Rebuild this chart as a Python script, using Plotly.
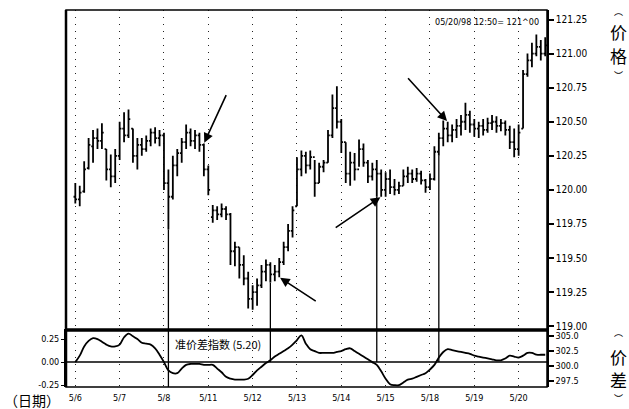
import plotly.graph_objects as go

# ---------------- data ----------------
days = ["5/6", "5/7", "5/8", "5/11", "5/12", "5/13", "5/14", "5/15", "5/18", "5/19", "5/20"]
day_start_bar = [0, 10, 20, 30, 40, 50, 60, 70, 80, 90, 100]

open_ = [119.95, 119.93, 119.99, 120.16, 120.32, 120.38, 120.36, 120.30, 120.15, 120.10,
         120.25, 120.45, 120.40, 120.45, 120.25, 120.33, 120.30, 120.36, 120.42, 120.38,
         120.40, 120.05, 119.95, 120.18, 120.27, 120.35, 120.42, 120.36, 120.40, 120.33,
         120.15, 119.80, 119.85, 119.82, 119.86, 119.82, 119.55, 119.58, 119.45, 119.35,
         119.20, 119.25, 119.30, 119.40, 119.45, 119.38, 119.40, 119.47, 119.58, 119.70,
         119.88, 120.15, 120.25, 120.18, 120.24, 120.05, 120.17, 120.20, 120.40, 120.60,
         120.50, 120.35, 120.12, 120.20, 120.15, 120.30, 120.20, 120.10, 120.15, 120.12,
         120.00, 120.08, 120.02, 120.00, 120.03, 120.10, 120.12, 120.08, 120.12, 120.07,
         120.02, 120.08, 120.28, 120.38, 120.45, 120.40, 120.44, 120.47, 120.50, 120.55,
         120.48, 120.45, 120.47, 120.44, 120.49, 120.50, 120.47, 120.49, 120.44, 120.35,
         120.30, 120.45, 120.85, 120.95, 121.00, 121.05, 121.00]

high = [120.05, 120.03, 120.21, 120.38, 120.44, 120.45, 120.49, 120.30, 120.26, 120.30,
        120.50, 120.57, 120.59, 120.45, 120.38, 120.38, 120.40, 120.45, 120.46, 120.44,
        120.42, 120.15, 120.25, 120.30, 120.38, 120.48, 120.45, 120.44, 120.42, 120.34,
        120.18, 119.89, 119.88, 119.90, 119.88, 119.83, 119.62, 119.58, 119.52, 119.40,
        119.30, 119.35, 119.45, 119.49, 119.47, 119.45, 119.50, 119.62, 119.75, 119.88,
        120.24, 120.29, 120.28, 120.29, 120.22, 120.20, 120.22, 120.44, 120.70, 120.76,
        120.52, 120.35, 120.28, 120.27, 120.37, 120.34, 120.22, 120.20, 120.22, 120.15,
        120.13, 120.15, 120.08, 120.06, 120.15, 120.17, 120.15, 120.16, 120.14, 120.08,
        120.12, 120.32, 120.42, 120.51, 120.50, 120.48, 120.52, 120.55, 120.64, 120.58,
        120.52, 120.50, 120.52, 120.53, 120.55, 120.54, 120.52, 120.51, 120.47, 120.45,
        120.48, 120.88, 121.00, 121.08, 121.14, 121.10, 121.12]

low = [119.90, 119.88, 119.98, 120.15, 120.20, 120.30, 120.30, 120.07, 120.02, 120.05,
       120.22, 120.35, 120.38, 120.20, 120.15, 120.25, 120.28, 120.32, 120.34, 120.32,
       120.00, 119.71, 119.93, 120.10, 120.20, 120.30, 120.32, 120.30, 120.28, 120.10,
       119.96, 119.76, 119.78, 119.80, 119.78, 119.45, 119.44, 119.35, 119.30, 119.13,
       119.12, 119.15, 119.28, 119.33, 119.32, 119.33, 119.36, 119.45, 119.55, 119.65,
       119.88, 120.10, 120.12, 120.15, 119.95, 120.05, 120.13, 120.20, 120.38, 120.45,
       120.27, 120.05, 120.03, 120.07, 120.17, 120.17, 120.05, 120.07, 119.95, 119.95,
       119.95, 119.97, 119.96, 119.97, 120.03, 120.05, 120.05, 120.06, 120.04, 119.98,
       120.00, 120.07, 120.25, 120.32, 120.35, 120.35, 120.38, 120.40, 120.44, 120.42,
       120.39, 120.38, 120.40, 120.42, 120.44, 120.42, 120.43, 120.40, 120.30, 120.24,
       120.25, 120.45, 120.83, 120.90, 120.98, 120.95, 120.98]

close = [119.93, 119.98, 120.15, 120.33, 120.38, 120.36, 120.42, 120.15, 120.10, 120.25,
         120.45, 120.40, 120.52, 120.25, 120.33, 120.30, 120.36, 120.42, 120.38, 120.40,
         120.05, 119.95, 120.18, 120.27, 120.35, 120.42, 120.36, 120.40, 120.33, 120.15,
         120.00, 119.85, 119.82, 119.86, 119.82, 119.55, 119.58, 119.45, 119.35, 119.20,
         119.25, 119.30, 119.40, 119.45, 119.38, 119.40, 119.47, 119.58, 119.70, 119.85,
         120.15, 120.25, 120.18, 120.24, 120.05, 120.17, 120.20, 120.40, 120.60, 120.50,
         120.35, 120.12, 120.20, 120.15, 120.30, 120.20, 120.10, 120.15, 120.12, 120.00,
         120.08, 120.02, 120.00, 120.03, 120.10, 120.12, 120.08, 120.12, 120.07, 120.02,
         120.08, 120.28, 120.38, 120.45, 120.40, 120.44, 120.47, 120.50, 120.55, 120.48,
         120.45, 120.47, 120.44, 120.49, 120.50, 120.47, 120.49, 120.44, 120.35, 120.30,
         120.42, 120.85, 120.95, 121.00, 121.05, 121.00, 121.06]

osc = [0.00, 0.07, 0.17, 0.23, 0.26, 0.25, 0.22, 0.19, 0.17, 0.17,
       0.19, 0.27, 0.31, 0.28, 0.25, 0.21, 0.20, 0.19, 0.15, 0.08,
       0.00, -0.09, -0.12, -0.12, -0.07, -0.03, -0.02, -0.02, -0.02, -0.03,
       -0.03, -0.03, -0.07, -0.11, -0.16, -0.18, -0.19, -0.19, -0.19, -0.18,
       -0.14, -0.09, -0.05, -0.01, 0.02, 0.06, 0.09, 0.12, 0.15, 0.19,
       0.24, 0.29, 0.20, 0.14, 0.12, 0.10, 0.10, 0.10, 0.10, 0.11,
       0.12, 0.14, 0.15, 0.12, 0.09, 0.06, 0.03, 0.00, -0.03, -0.10,
       -0.18, -0.24, -0.25, -0.25, -0.22, -0.19, -0.18, -0.16, -0.14, -0.12,
       -0.08, -0.03, 0.05, 0.11, 0.14, 0.13, 0.12, 0.11, 0.10, 0.09,
       0.07, 0.06, 0.05, 0.04, 0.03, 0.02, 0.02, 0.04, 0.07, 0.06,
       0.05, 0.07, 0.10, 0.10, 0.08, 0.08, 0.08]

price_ticks = [121.25, 121.00, 120.75, 120.50, 120.25, 120.00, 119.75, 119.50, 119.25, 119.00]
osc_ticks = [0.25, 0.00, -0.25]
spread_ticks = [305.0, 302.5, 300.0, 297.5]

signal_bars = [21, 44, 68, 82]
signal_lower_end = [-0.27, 0.0, 0.0, 0.0]

arrow_bars = [29, 46, 69, 84]
arrow_at = ["high", "low", "low", "high"]
arrow_dx = [23, 38, -47, -41]
arrow_dy = [-50, 25, 32, -45]

# ---------------- figure ----------------
bar_x = list(range(len(close)))
FONT = "Liberation Sans Narrow, DejaVu Sans Condensed, Liberation Sans, Arial, sans-serif"
CJK = "Noto Sans CJK SC, sans-serif"
XR = [-2.1, 106.4]
PR = [118.98, 121.32]
OR = [-0.27, 0.36]
SR = [296.5, 306.17]

fig = go.Figure()
fig.add_trace(go.Ohlc(
    x=bar_x, open=open_, high=high, low=low, close=close,
    increasing=dict(line=dict(color="black", width=1.8)),
    decreasing=dict(line=dict(color="black", width=1.8)),
    tickwidth=0.4, xaxis="x", yaxis="y", showlegend=False, hoverinfo="skip"))
fig.add_trace(go.Scatter(
    x=bar_x, y=osc, mode="lines", line=dict(color="black", width=1.8, shape="spline"),
    xaxis="x2", yaxis="y2", showlegend=False, hoverinfo="skip"))
fig.add_trace(go.Scatter(
    x=[bar_x[0]], y=[spread_ticks[2]], mode="markers", marker=dict(opacity=0),
    xaxis="x2", yaxis="y3", showlegend=False, hoverinfo="skip"))

grid = dict(showgrid=True, gridcolor="#222", griddash="1px,6px", gridwidth=1)
fig.update_layout(
    width=629, height=409,
    margin=dict(l=66, r=82, t=10, b=22, autoexpand=False),
    paper_bgcolor="white", plot_bgcolor="white",
    font=dict(family=FONT, color="black", size=10),
    xaxis=dict(domain=[0, 1], range=XR, anchor="y", tickvals=day_start_bar,
               showticklabels=False, ticks="", zeroline=False, automargin=False,
               rangeslider=dict(visible=False), **grid),
    xaxis2=dict(domain=[0, 1], range=XR, anchor="y2", matches="x", automargin=False,
                tickvals=day_start_bar, ticktext=days, ticks="", zeroline=False,
                ticklabelstandoff=4,
                tickfont=dict(size=9, family=FONT), **grid),
    yaxis=dict(domain=[0.154, 1], range=PR, anchor="x", side="right", automargin=False,
               tickvals=price_ticks, ticktext=[f"{v:.2f}" for v in price_ticks],
               ticks="outside", ticklen=5, tickwidth=1.5, tickcolor="black",
               showline=True, linewidth=1.5, linecolor="black",
               showgrid=False, zeroline=False, tickfont=dict(size=10)),
    yaxis2=dict(domain=[0, 0.154], range=OR, anchor="x2", side="left", automargin=False,
                tickvals=osc_ticks, ticktext=[f"{v:.2f}" for v in osc_ticks],
                ticks="outside", ticklen=3, tickcolor="black",
                showline=True, linewidth=2, linecolor="black",
                showgrid=False, zeroline=False, tickfont=dict(size=9)),
    yaxis3=dict(range=SR, overlaying="y2", anchor="x2", side="right", automargin=False,
                tickvals=spread_ticks, ticktext=[f"{v:.1f}" for v in spread_ticks],
                ticks="outside", ticklen=5, tickwidth=1.5, tickcolor="black",
                showline=True, linewidth=1.5, linecolor="black",
                showgrid=False, zeroline=False, tickfont=dict(size=9)),
)

shapes = [
    dict(type="rect", xref="paper", yref="paper", x0=0, x1=1, y0=0, y1=1,
         line=dict(color="black", width=1.5)),
    dict(type="line", xref="paper", yref="paper", x0=0, x1=0, y0=0, y1=1,
         line=dict(color="black", width=2.5)),
    dict(type="line", xref="paper", yref="paper", x0=0, x1=1, y0=0.151, y1=0.151,
         line=dict(color="black", width=3.5)),
    dict(type="line", xref="paper", yref="y2", x0=0, x1=1, y0=0, y1=0,
         line=dict(color="black", width=1.5)),
]
for b, end in zip(signal_bars, signal_lower_end):
    shapes.append(dict(type="line", xref="x", yref="y", x0=b, x1=b, y0=low[b], y1=PR[0],
                       line=dict(color="black", width=1.3)))
    shapes.append(dict(type="line", xref="x2", yref="y2", x0=b, x1=b, y0=OR[1], y1=end,
                       line=dict(color="black", width=1.3)))
fig.update_layout(shapes=shapes)

ann = []
for b, side, dx, dy in zip(arrow_bars, arrow_at, arrow_dx, arrow_dy):
    yv = high[b] if side == "high" else low[b]
    ann.append(dict(x=b, y=yv, xref="x", yref="y", ax=dx, ay=dy, showarrow=True,
                    arrowhead=2, arrowsize=1.2, arrowwidth=1.6, arrowcolor="black",
                    standoff=1, text=""))
ann += [
    dict(text="05/20/98 12:50= 121^00", xref="paper", yref="paper", x=0.9875, y=0.968,
         xanchor="right", yanchor="middle", showarrow=False, font=dict(size=9, family=FONT)),
    dict(text="准价差指数 (5.20)", xref="paper", yref="paper", x=0.222, y=0.114,
         xanchor="left", yanchor="middle", showarrow=False, font=dict(size=11, family=CJK)),
    dict(text="（日期）", xref="paper", yref="paper", x=-0.133, y=(387 - 400) / 377,
         xanchor="left", yanchor="middle", showarrow=False, font=dict(size=14, family=CJK)),
]
for ch, ypix, sz in [("︵", 11, 9), ("价", 31, 17), ("格", 55, 17), ("︶", 76, 9),
                     ("︵", 332, 9), ("价", 356, 17), ("差", 379, 17), ("︶", 399, 9)]:
    ann.append(dict(text=ch, xref="paper", yref="paper", x=(618 - 66) / 481,
                    y=(387 - ypix) / 377, xanchor="center", yanchor="middle",
                    showarrow=False, font=dict(size=sz, family=CJK)))
fig.update_layout(annotations=ann)

fig.write_html("out.html", config={"displayModeBar": False},
               post_script="document.body.style.margin='0';document.body.style.padding='0';")
